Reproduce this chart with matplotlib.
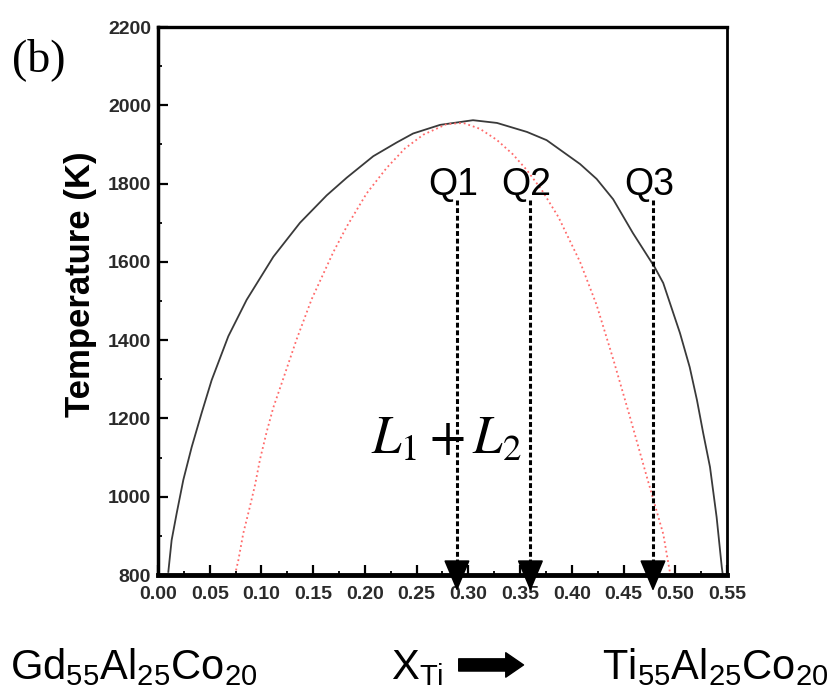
"""
Phase diagram sketch: binodal (solid) and spinodal (dotted red) for
Gd55Al25Co20 -> Ti55Al25Co20, with the three quench compositions Q1-Q3.
"""

import matplotlib
matplotlib.use("Agg")
import matplotlib.pyplot as plt
from matplotlib import font_manager
from matplotlib.ticker import FormatStrFormatter, MultipleLocator

# ── data ──────────────────────────────────────────────────────────────────────

binodal_x = [0.0100, 0.0132, 0.0181, 0.0245, 0.0326, 0.0422, 0.0519, 0.068,
             0.0857, 0.1115, 0.1373, 0.1631, 0.1824, 0.2081, 0.2307, 0.2466,
             0.2726, 0.3045, 0.3277, 0.3567, 0.3757, 0.408, 0.424, 0.440,
             0.459, 0.480, 0.4884, 0.5046, 0.514, 0.521, 0.527, 0.5336,
             0.540, 0.545, 0.546]
binodal_t = [808, 889, 958, 1043, 1127, 1214, 1298, 1410,
             1503, 1613, 1700, 1770, 1815, 1870, 1905, 1928,
             1950, 1962, 1955, 1932, 1911, 1850, 1812, 1760,
             1674, 1587, 1546, 1418, 1331, 1247, 1163, 1076,
             948, 820, 800]

spinodal_x = [0.0744, 0.0777, 0.0825, 0.0889, 0.0938, 0.0986, 0.105, 0.1115,
              0.1196, 0.134, 0.1486, 0.1695, 0.1824, 0.2017, 0.221, 0.2388,
              0.2565, 0.279, 0.2951, 0.3112, 0.3274, 0.343, 0.3564, 0.3709,
              0.387, 0.408, 0.424, 0.440, 0.456, 0.4724, 0.4884, 0.495]
spinodal_t = [800, 838, 907, 975, 1030, 1095, 1165, 1228,
              1290, 1402, 1505, 1625, 1690, 1775, 1840, 1890,
              1925, 1952, 1955, 1940, 1912, 1875, 1835, 1784,
              1715, 1600, 1490, 1352, 1206, 1052, 905, 805]

Q_NAMES = ["Q1", "Q2", "Q3"]
Q_X     = [0.289, 0.360, 0.4785]

X_TICK_STEP = 0.05
Y_TICK_STEP = 200

# ── fonts ─────────────────────────────────────────────────────────────────────

avail = {f.name for f in font_manager.fontManager.ttflist}
SANS   = "Liberation Sans"
NARROW = "Liberation Sans Narrow" if "Liberation Sans Narrow" in avail else SANS
SERIF  = "Liberation Serif"

plt.rcParams["font.family"] = [SANS, "DejaVu Sans"]
plt.rcParams["mathtext.fontset"] = "custom"
plt.rcParams["mathtext.rm"] = NARROW
plt.rcParams["mathtext.it"] = NARROW + ":italic"


def main():
    fig = plt.figure(figsize=(8.31, 6.97), dpi=100)
    ax = fig.add_axes([0.1901, 0.1750, 0.6847, 0.7862])

    ax.plot(binodal_x, binodal_t, color="#3a3a3a", lw=1.3)
    ax.plot(spinodal_x, spinodal_t, color="#ff6a6a", lw=1.3, ls=":")

    # quench lines with arrows below the axis
    for x, name in zip(Q_X, Q_NAMES):
        ax.plot([x, x], [1758, 800], color="k", lw=2.2, ls=(0, (1.6, 0.9)),
                clip_on=False, zorder=4)
        ax.annotate("", xy=(x, 759), xytext=(x, 830),
                    arrowprops=dict(arrowstyle="-|>,head_length=1.0,head_width=0.42",
                                    color="k", lw=1.2, mutation_scale=20,
                                    shrinkA=0, shrinkB=0),
                    annotation_clip=False, zorder=5)
        ax.text(x - 0.004, 1771, name, ha="center", va="baseline", fontsize=27)

    ax.text(0.279, 1145, r"$L_1+L_2$", ha="center", va="center", fontsize=38,
            math_fontfamily="stix")

    ax.set_xlim(0, 0.55)
    ax.set_ylim(800, 2200)
    ax.xaxis.set_major_locator(MultipleLocator(X_TICK_STEP))
    ax.xaxis.set_minor_locator(MultipleLocator(X_TICK_STEP / 2))
    ax.yaxis.set_major_locator(MultipleLocator(Y_TICK_STEP))
    ax.yaxis.set_minor_locator(MultipleLocator(Y_TICK_STEP / 2))
    ax.xaxis.set_major_formatter(FormatStrFormatter("%.2f"))

    ax.tick_params(which="major", direction="in", length=7, width=1.6,
                   labelsize=14, labelcolor="#2a2a2a")
    ax.tick_params(which="minor", direction="in", length=3, width=1.3)
    ax.tick_params(axis="x", pad=8)
    ax.tick_params(axis="y", pad=5)
    for lab in ax.get_xticklabels() + ax.get_yticklabels():
        lab.set_fontweight("bold")

    for side, w in (("left", 2.5), ("bottom", 3.5), ("top", 2.4), ("right", 2.0)):
        ax.spines[side].set_linewidth(w)

    ax.set_ylabel("Temperature (K)", fontsize=25, fontweight="bold")
    ax.yaxis.set_label_coords(-0.108, 0.53)

    # panel letter and composition axis
    fig.text(0.0144, 0.914, "(b)", fontsize=33, family=SERIF, ha="left", va="center")
    fig.text(0.012, 0.025, r"$\mathrm{Gd_{55}Al_{25}Co_{20}}$", fontsize=30,
             ha="left", va="baseline")
    fig.text(0.470, 0.025, r"$\mathrm{X_{Ti}}$", fontsize=30,
             ha="left", va="baseline")
    fig.text(0.725, 0.025, r"$\mathrm{Ti_{55}Al_{25}Co_{20}}$", fontsize=30,
             ha="left", va="baseline")
    ax.annotate("", xy=(0.630, 0.046), xytext=(0.552, 0.046),
                xycoords="figure fraction",
                arrowprops=dict(arrowstyle="simple,head_length=0.8,head_width=1.1,tail_width=0.55",
                                color="k", mutation_scale=16, shrinkA=0, shrinkB=0))

    fig.savefig("out.png", dpi=100)


if __name__ == "__main__":
    main()
